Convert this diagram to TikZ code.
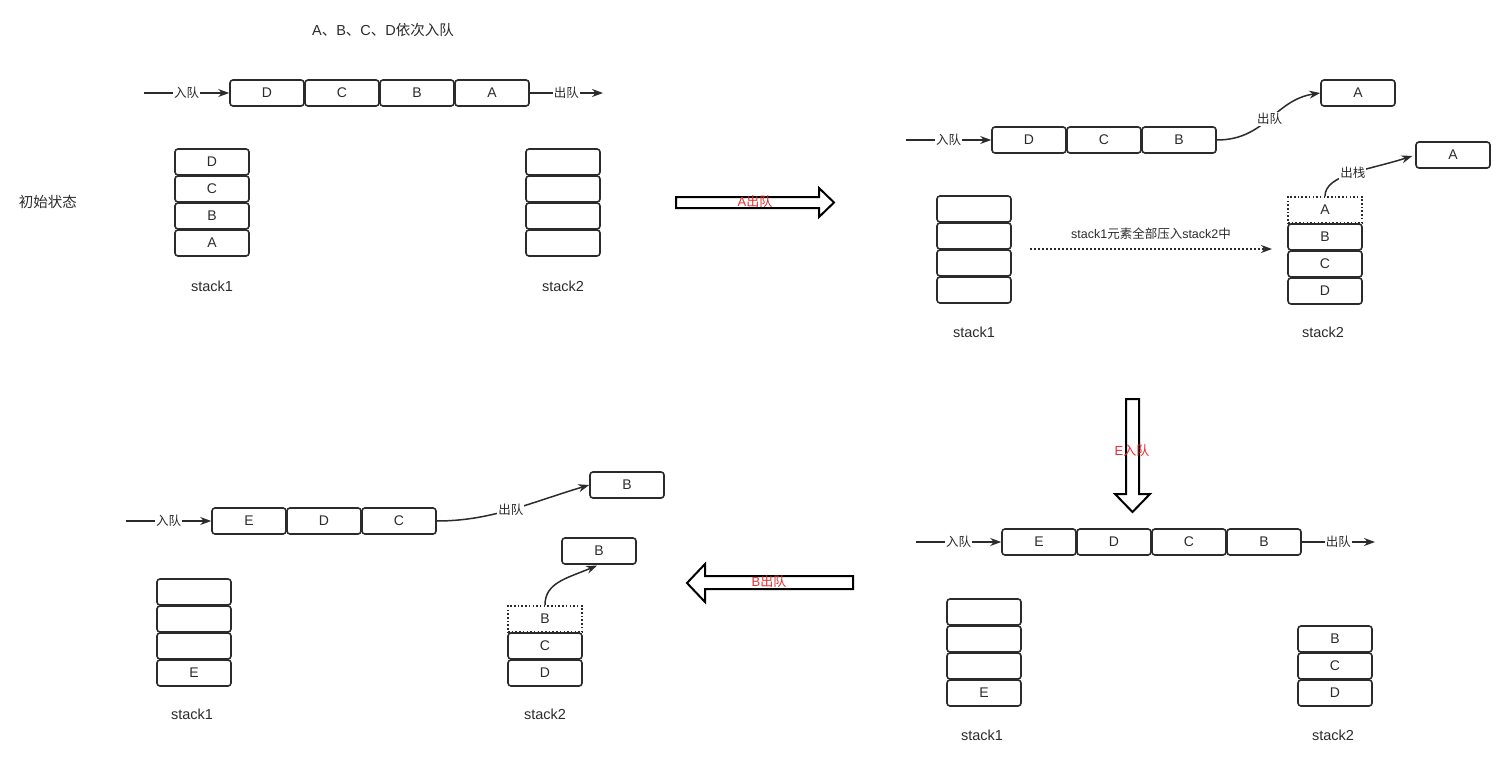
\documentclass[tikz,border=0pt]{standalone}
\usepackage{fontspec}
\setmainfont{Liberation Sans}
\newfontfamily\cjk{Noto Sans CJK SC}
\usetikzlibrary{arrows.meta}
\definecolor{ink}{HTML}{2B2B2B}
\definecolor{lblred}{RGB}{232,45,45}
\tikzset{
 cell/.style={draw=ink, line width=1.6pt, rounded corners=3pt, minimum width=74pt, minimum height=26pt, inner sep=0pt, text=ink, font=\fontsize{14}{14}\selectfont},
 dcell/.style={cell, rounded corners=0pt, dash pattern=on 1.5pt off 2.2pt},
 lbl/.style={text=ink, font=\fontsize{14.5}{15}\selectfont},
 small/.style={text=ink, font=\fontsize{12.5}{13}\selectfont\cjk, fill=white, inner sep=1pt},
 conn/.style={draw=ink, line width=1.5pt, -{Stealth[length=11pt,width=8pt]}},
 bigarrow/.style={draw=black, line width=2pt, fill=white, line join=miter},
 redlbl/.style={text=lblred, font=\fontsize{13}{13}\selectfont}
}
\begin{document}
\begin{tikzpicture}[x=1pt,y=-1pt]
\useasboundingbox (0,0) rectangle (1505,757);

% ---------- Panel 1 ----------
\node[lbl] (t1) at (383,30) {A{\cjk 、}B{\cjk 、}C{\cjk 、}D{\cjk 依次入队}};
\node[lbl] (init) at (48,202) {\cjk 初始状态};
\node[cell] (q1d) at (267,93) {D};
\node[cell] (q1c) at (342,93) {C};
\node[cell] (q1b) at (417,93) {B};
\node[cell] (q1a) at (492,93) {A};
\coordinate (q1in) at (144,93);
\coordinate (q1out) at (603,93);
\draw[conn] (q1in) -- node[small]{入队} (q1d.west);
\draw[conn] (q1a.east) -- node[small]{出队} (q1out);
\node[cell] (p1s1d) at (212,162) {D};
\node[cell] (p1s1c) at (212,189) {C};
\node[cell] (p1s1b) at (212,216) {B};
\node[cell] (p1s1a) at (212,243) {A};
\node[cell] (p1s2a) at (563,162) {};
\node[cell] (p1s2b) at (563,189) {};
\node[cell] (p1s2c) at (563,216) {};
\node[cell] (p1s2d) at (563,243) {};
\node[lbl] (p1l1) at (212,286) {stack1};
\node[lbl] (p1l2) at (563,286) {stack2};

% big arrow right
\draw[bigarrow] (676,197) -- (819,197) -- (819,188) -- (834,202.5) -- (819,217) -- (819,208) -- (676,208) -- cycle;
\node[redlbl] (ar1) at (755,202) {A{\cjk 出队}};

% ---------- Panel 2 ----------
\node[cell] (q2d) at (1029,140) {D};
\node[cell] (q2c) at (1104,140) {C};
\node[cell] (q2b) at (1179,140) {B};
\coordinate (q2in) at (906,140);
\draw[conn] (q2in) -- node[small]{入队} (q2d.west);
\node[cell] (p2a) at (1358,93) {A};
\node[cell] (p2a2) at (1453,155) {A};
\draw[conn] (q2b.east) .. controls +(49,0) and +(-46,7) .. node[small]{出队} (p2a.west);
\node[cell] (p2s1a) at (974,209) {};
\node[cell] (p2s1b) at (974,236) {};
\node[cell] (p2s1c) at (974,263) {};
\node[cell] (p2s1d) at (974,290) {};
\node[dcell] (p2s2a) at (1325,210) {A};
\node[cell] (p2s2b) at (1325,237) {B};
\node[cell] (p2s2c) at (1325,264) {C};
\node[cell] (p2s2d) at (1325,291) {D};
\draw[conn, shorten >=3pt] (p2s2a.north) .. controls +(0,-22) and +(-46,15) .. node[small]{出栈} (p2a2.west);
\node[lbl] (p2l1) at (974,332) {stack1};
\node[lbl] (p2l2) at (1323,332) {stack2};
\coordinate (mvA) at (1030,249);
\coordinate (mvB) at (1272,249);
\draw[conn, dash pattern=on 1.5pt off 2.5pt] (mvA) -- node[midway, anchor=south, yshift=8pt, text=ink, font=\fontsize{12.5}{13}\selectfont, inner sep=1pt]{stack1{\cjk 元素全部压入}stack2{\cjk 中}} (mvB);

% big arrow down
\draw[bigarrow] (1126,399) -- (1139,399) -- (1139,494) -- (1150,494) -- (1132.5,512) -- (1115,494) -- (1126,494) -- cycle;
\node[redlbl] (ar2) at (1132,451) {E{\cjk 入队}};

% ---------- Panel 3 ----------
\node[cell] (q3e) at (1039,542) {E};
\node[cell] (q3d) at (1114,542) {D};
\node[cell] (q3c) at (1189,542) {C};
\node[cell] (q3b) at (1264,542) {B};
\coordinate (q3in) at (916,542);
\coordinate (q3out) at (1375,542);
\draw[conn] (q3in) -- node[small]{入队} (q3e.west);
\draw[conn] (q3b.east) -- node[small]{出队} (q3out);
\node[cell] (p3s1a) at (984,612) {};
\node[cell] (p3s1b) at (984,639) {};
\node[cell] (p3s1c) at (984,666) {};
\node[cell] (p3s1d) at (984,693) {E};
\node[cell] (p3s2b) at (1335,639) {B};
\node[cell] (p3s2c) at (1335,666) {C};
\node[cell] (p3s2d) at (1335,693) {D};
\node[lbl] (p3l1) at (982,735) {stack1};
\node[lbl] (p3l2) at (1333,735) {stack2};

% big arrow left
\draw[bigarrow] (853,576) -- (705,576) -- (705,564) -- (687,583) -- (705,602) -- (705,589) -- (853,589) -- cycle;
\node[redlbl] (ar3) at (769,582) {B{\cjk 出队}};

% ---------- Panel 4 ----------
\node[cell] (q4e) at (249,521) {E};
\node[cell] (q4d) at (324,521) {D};
\node[cell] (q4c) at (399,521) {C};
\coordinate (q4in) at (126,521);
\draw[conn] (q4in) -- node[small]{入队} (q4e.west);
\node[cell] (p4b) at (627,485) {B};
\node[cell] (p4b2) at (599,551) {B};
\draw[conn] (q4c.east) .. controls +(54,0) and +(-60,18) .. node[small]{出队} (p4b.west);
\node[cell] (p4s1a) at (194,592) {};
\node[cell] (p4s1b) at (194,619) {};
\node[cell] (p4s1c) at (194,646) {};
\node[cell] (p4s1d) at (194,673) {E};
\node[dcell] (p4s2b) at (545,619) {B};
\node[cell] (p4s2c) at (545,646) {C};
\node[cell] (p4s2d) at (545,673) {D};
\draw[conn, shorten >=2pt] (p4s2b.north) .. controls +(0,-22) and +(-34,14) .. (p4b2.south);
\node[lbl] (p4l1) at (192,714) {stack1};
\node[lbl] (p4l2) at (545,714) {stack2};
\end{tikzpicture}
\end{document}
